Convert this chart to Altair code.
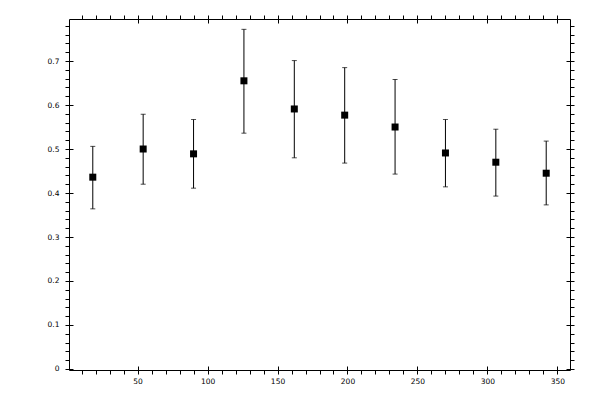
import altair as alt
import pandas as pd

angle = [18, 54, 90, 126, 162, 198, 234, 270, 306, 342]
value = [0.436, 0.500, 0.489, 0.655, 0.591, 0.577, 0.550, 0.491, 0.470, 0.445]
upper = [0.506, 0.579, 0.567, 0.772, 0.701, 0.685, 0.658, 0.567, 0.545, 0.518]
lower = [0.364, 0.420, 0.411, 0.536, 0.480, 0.468, 0.443, 0.414, 0.393, 0.373]

x_ticks = list(range(10, 351, 10))
x_major = [50, 100, 150, 200, 250, 300, 350]
y_ticks = [round(i * 0.02, 2) for i in range(0, 40)]
y_major = [0, 0.1, 0.2, 0.3, 0.4, 0.5, 0.6, 0.7]

df = pd.DataFrame(dict(angle=angle, value=value, upper=upper, lower=lower))

xs = alt.Scale(domain=[1, 359], nice=False, zero=False)
ys = alt.Scale(domain=[-0.0023, 0.7955], nice=False, zero=False)

FONT = "DejaVu Sans"


def ax(orient, values, **kw):
    base = dict(orient=orient, values=values, grid=False, title=None,
                tickColor="black", domainColor="black", tickWidth=1,
                domainWidth=1, labelFont=FONT, labelFontSize=7.5,
                labelColor="black", tickSize=4)
    base.update(kw)
    return alt.Axis(**base)


def xlayer(axis):
    return alt.Chart(df).mark_point(opacity=0).encode(
        x=alt.X("angle:Q", scale=xs, axis=axis),
        y=alt.Y("value:Q", scale=ys, axis=None),
    )


def ylayer(axis):
    return alt.Chart(df).mark_point(opacity=0).encode(
        x=alt.X("angle:Q", scale=xs, axis=None),
        y=alt.Y("value:Q", scale=ys, axis=axis),
    )


x_label_expr = "round(datum.value) % 50 == 0 ? datum.label : ''"
y_label_expr = ("round(datum.value * 100) % 10 == 0 ? "
                "(abs(datum.value) < 0.001 ? '0' : format(datum.value, '.1f')) : ''")

axes = [
    xlayer(ax("bottom", x_ticks, labelExpr=x_label_expr, labelPadding=3, domain=True)),
    xlayer(ax("bottom", x_major, offset=-4, labels=False, domain=False)),
    xlayer(ax("top", x_ticks, labels=False, domain=True)),
    xlayer(ax("top", x_major, offset=-4, labels=False, domain=False)),
    ylayer(ax("left", y_ticks, labelExpr=y_label_expr, labelPadding=6, domain=True)),
    ylayer(ax("left", y_major, offset=-4, labels=False, domain=False)),
    ylayer(ax("right", y_ticks, labels=False, domain=True)),
    ylayer(ax("right", y_major, offset=-4, labels=False, domain=False)),
]

base = alt.Chart(df)
bars = base.mark_rule(color="black", strokeWidth=1).encode(
    x=alt.X("angle:Q", scale=xs, axis=None),
    y=alt.Y("lower:Q", scale=ys, axis=None),
    y2="upper:Q",
)
cap_hi = base.mark_tick(color="black", orient="horizontal", size=5, thickness=1).encode(
    x=alt.X("angle:Q", scale=xs, axis=None),
    y=alt.Y("upper:Q", scale=ys, axis=None),
)
cap_lo = base.mark_tick(color="black", orient="horizontal", size=5, thickness=1).encode(
    x=alt.X("angle:Q", scale=xs, axis=None),
    y=alt.Y("lower:Q", scale=ys, axis=None),
)
pts = base.mark_square(color="black", size=49, opacity=1).encode(
    x=alt.X("angle:Q", scale=xs, axis=None),
    y=alt.Y("value:Q", scale=ys, axis=None),
)

chart = alt.layer(*axes, bars, cap_hi, cap_lo, pts).resolve_axis(
    x="independent", y="independent"
).properties(
    width=501, height=351,
    autosize=alt.AutoSizeParams(type="none"),
    padding={"left": 61, "top": 11, "right": 22, "bottom": 22},
    background="white",
).configure_view(stroke="transparent")

chart.save("out.html", embed_options={"renderer": "svg", "actions": False})
